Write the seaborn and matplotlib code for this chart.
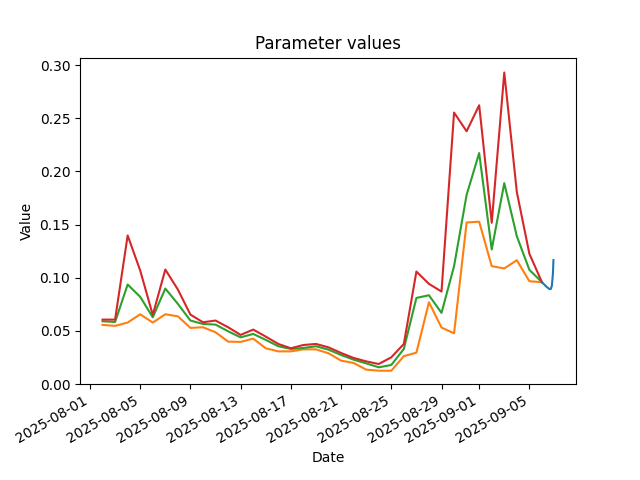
import matplotlib
matplotlib.use("Agg")
import matplotlib.pyplot as plt
import seaborn as sns
import pandas as pd
import numpy as np

dates = pd.date_range("2025-08-02", "2025-09-06", freq="D")

red_vals = [0.0606, 0.0606, 0.1398, 0.1068, 0.0650, 0.1077, 0.0889, 0.0653, 0.0581, 0.0597,
            0.0534, 0.0462, 0.0512, 0.0446, 0.0377, 0.0336, 0.0367, 0.0377, 0.0345, 0.0292,
            0.0245, 0.0213, 0.0188, 0.0251, 0.0377, 0.1058, 0.0942, 0.0870, 0.2554, 0.2378,
            0.2623, 0.1517, 0.2931, 0.1806, 0.1225, 0.0958]
green_vals = [0.0590, 0.0584, 0.0936, 0.0820, 0.0628, 0.0898, 0.0754, 0.0597, 0.0565, 0.0559,
              0.0496, 0.0439, 0.0471, 0.0415, 0.0355, 0.0330, 0.0339, 0.0355, 0.0323, 0.0273,
              0.0229, 0.0194, 0.0157, 0.0179, 0.0330, 0.0810, 0.0835, 0.0669, 0.1109, 0.1780,
              0.2173, 0.1266, 0.1890, 0.1390, 0.1074, 0.0958]
orange_vals = [0.0556, 0.0547, 0.0578, 0.0656, 0.0578, 0.0656, 0.0637, 0.0528, 0.0534, 0.0487,
               0.0399, 0.0396, 0.0427, 0.0336, 0.0307, 0.0307, 0.0326, 0.0326, 0.0289, 0.0220,
               0.0198, 0.0135, 0.0125, 0.0125, 0.0262, 0.0295, 0.0769, 0.0531, 0.0477, 0.1520,
               0.1527, 0.1109, 0.1087, 0.1165, 0.0967, 0.0958]

blue_times = pd.to_datetime(["2025-09-06 00:00", "2025-09-06 04:00", "2025-09-06 08:00",
                             "2025-09-06 12:00", "2025-09-06 15:00", "2025-09-06 17:00",
                             "2025-09-06 19:00", "2025-09-06 21:00", "2025-09-06 22:00"])
blue_vals = [0.0958, 0.0938, 0.0918, 0.0902, 0.0892, 0.0895, 0.0925, 0.1040, 0.1166]

daily = pd.DataFrame({"Date": dates, "orange": orange_vals, "green": green_vals, "red": red_vals})
blue = pd.DataFrame({"Date": blue_times, "Value": blue_vals})

fig, ax = plt.subplots(figsize=(6.4, 4.8), dpi=100)
sns.lineplot(data=daily, x="Date", y="orange", color="#ff7f0e", ax=ax)
sns.lineplot(data=daily, x="Date", y="green", color="#2ca02c", ax=ax)
sns.lineplot(data=daily, x="Date", y="red", color="#d62728", ax=ax)
sns.lineplot(data=blue, x="Date", y="Value", color="#1f77b4", ax=ax)

ax.set_ylim(bottom=0)
ax.set_title("Parameter values")
ax.set_xlabel("Date")
ax.set_ylabel("Value")
fig.autofmt_xdate()
fig.savefig("out.png", dpi=100)
